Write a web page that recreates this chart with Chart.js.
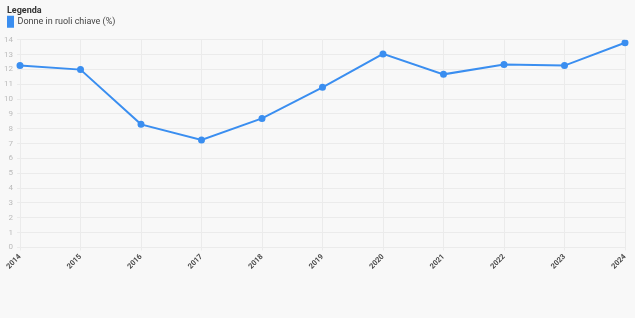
<!DOCTYPE html>
<html>
<head>
  <script src="https://cdn.jsdelivr.net/npm/chart.js"></script>
  <style>
    body { margin: 0; background: #f8f8f8; }
    .chart-container { width: 635px; height: 273px; }
  </style>
</head>
<body>
  <div class="chart-container">
    <canvas id="chart"></canvas>
  </div>
  <script>
    const years = ["2014", "2015", "2016", "2017", "2018", "2019", "2020", "2021", "2022", "2023", "2024"];
    const womenKeyRoles = [12.26, 11.99, 8.3, 7.25, 8.7, 10.8, 13.05, 11.67, 12.33, 12.26, 13.8];
    const yTicks = [0, 14, 1];

    Chart.defaults.font.family = "Roboto";

    // extra space between legend and chart area, legend nudged right
    const legendGap = {
      id: "legendGap",
      beforeInit(chart) {
        const fit = chart.legend.fit;
        chart.legend.fit = function () {
          fit.bind(this)();
          this.height += 3;
        };
      },
      afterLayout(chart) {
        chart.legend.left += 7;
        chart.legend.right += 7;
      },
    };

    const chart = new Chart("chart", {
      type: "line",
      data: {
        labels: years,
        datasets: [
          {
            label: "Donne in ruoli chiave (%)",
            data: womenKeyRoles,
            borderColor: "#3a8ef0",
            backgroundColor: "#3a8ef0",
            borderWidth: 2,
            pointRadius: 2.5,
            pointHoverRadius: 4,
            tension: 0,
          },
        ],
      },
      options: {
        responsive: true,
        maintainAspectRatio: false,
        animation: false,
        layout: { padding: { left: 0, right: 10, top: 6 } },
        plugins: {
          legend: {
            position: "top",
            align: "start",
            title: {
              display: true,
              text: "Legenda",
              position: "start",
              color: "#333",
              font: { size: 9, weight: "bold" },
              padding: { top: 0, bottom: 0 },
            },
            labels: {
              boxWidth: 6,
              boxHeight: 10,
              color: "#444",
              font: { size: 9 },
              padding: 0,
            },
          },
        },
        scales: {
          x: {
            grid: { color: "#ebebeb", tickLength: 3 },
            border: { display: false },
            ticks: {
              maxRotation: 45,
              minRotation: 45,
              color: "#4a4a4a",
              font: { size: 7.5, weight: "bold" },
              padding: 2,
            },
          },
          y: {
            min: yTicks[0],
            max: yTicks[1],
            grid: { color: "#ebebeb", tickLength: 3 },
            border: { display: false },
            afterFit(axis) {
              axis.width = 20;
            },
            ticks: {
              stepSize: yTicks[2],
              color: "#bbb",
              font: { size: 8 },
              padding: 4,
            },
          },
        },
      },
      plugins: [legendGap],
    });
  </script>
</body>
</html>
